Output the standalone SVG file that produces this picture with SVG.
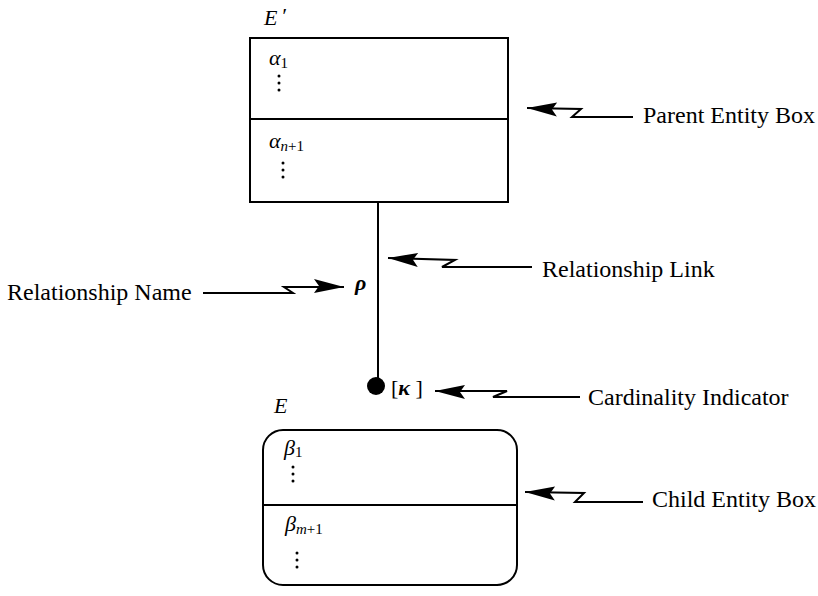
<svg xmlns="http://www.w3.org/2000/svg" width="818" height="596" viewBox="0 0 818 596">
<style>
.box{fill:none;stroke:#000;stroke-width:2}
.ln{fill:none;stroke:#000;stroke-width:2}
.lbl{font-family:"Liberation Serif",serif;font-size:24px;fill:#000}
.m{font-family:"Liberation Serif",serif;font-style:italic;font-size:22px;fill:#000}
.sub{font-family:"Liberation Serif",serif;font-style:normal;font-size:15px;fill:#000}
.subi{font-style:italic}
.dot{fill:#000}
</style>
<defs>
<marker id="ah" markerUnits="userSpaceOnUse" markerWidth="40" markerHeight="24" viewBox="-32 -12 34 24" refX="0" refY="0" orient="auto">
<path d="M0,0 L-30,-8 L-25,-1 L-30,6 Z" fill="#000"/>
</marker>
</defs>
<rect width="818" height="596" fill="#fff"/>
<g id="parent">
<rect class="box" x="250" y="38" width="258" height="164"/>
<line class="box" x1="250" y1="119" x2="508" y2="119"/>
<text class="m" x="264" y="25" font-size="21">E</text><text class="m" x="281" y="23" font-size="20">′</text>
<text class="m" x="269" y="65">α<tspan class="sub" dy="3">1</tspan></text>
<circle class="dot" cx="279" cy="76" r="1.5"/><circle class="dot" cx="279" cy="83" r="1.5"/><circle class="dot" cx="279" cy="90" r="1.5"/>
<text class="m" x="269" y="148">α<tspan class="sub subi" dy="3">n</tspan><tspan class="sub">+1</tspan></text>
<circle class="dot" cx="283" cy="163" r="1.5"/><circle class="dot" cx="283" cy="170" r="1.5"/><circle class="dot" cx="283" cy="177" r="1.5"/>
</g>
<g id="child">
<rect class="box" x="263" y="430" width="254" height="155" rx="20" ry="20"/>
<line class="box" x1="263" y1="505" x2="517" y2="505"/>
<text class="m" x="274" y="413" font-size="21">E</text>
<text class="m" x="284" y="455">β<tspan class="sub" dy="2">1</tspan></text>
<circle class="dot" cx="293" cy="467" r="1.5"/><circle class="dot" cx="293" cy="474" r="1.5"/><circle class="dot" cx="293" cy="481" r="1.5"/>
<text class="m" x="285" y="531">β<tspan class="sub subi" dy="3">m</tspan><tspan class="sub">+1</tspan></text>
<circle class="dot" cx="297" cy="553" r="1.5"/><circle class="dot" cx="297" cy="560" r="1.5"/><circle class="dot" cx="297" cy="567" r="1.5"/>
</g>
<g id="link">
<line class="ln" x1="378" y1="202" x2="378" y2="384"/>
<circle cx="376" cy="386" r="9" fill="#000"/>
<text class="m" x="355" y="290" font-weight="bold" font-size="24">ρ</text>
<text class="m" x="391" y="395" font-size="20"><tspan font-style="normal">[</tspan><tspan font-weight="bold">κ</tspan><tspan font-style="normal"> ]</tspan></text>
</g>
<g id="connectors">
<path class="ln" d="M633,117 L572,117 L581,109 L527,108" marker-end="url(#ah)"/>
<path class="ln" d="M532,267 L442,267 L455,260 L388,258" marker-end="url(#ah)"/>
<path class="ln" d="M203,293 L293,293 L284,287 L344,287" marker-end="url(#ah)"/>
<path class="ln" d="M580,397 L493,397 L507,391 L435,391" marker-end="url(#ah)"/>
<path class="ln" d="M643,502 L575,502 L584,493 L525,492" marker-end="url(#ah)"/>
</g>
<g id="labels">
<text class="lbl" x="643" y="123">Parent Entity Box</text>
<text class="lbl" x="542" y="277">Relationship Link</text>
<text class="lbl" x="7" y="300">Relationship Name</text>
<text class="lbl" x="588" y="405">Cardinality Indicator</text>
<text class="lbl" x="652" y="507">Child Entity Box</text>
</g>
</svg>
